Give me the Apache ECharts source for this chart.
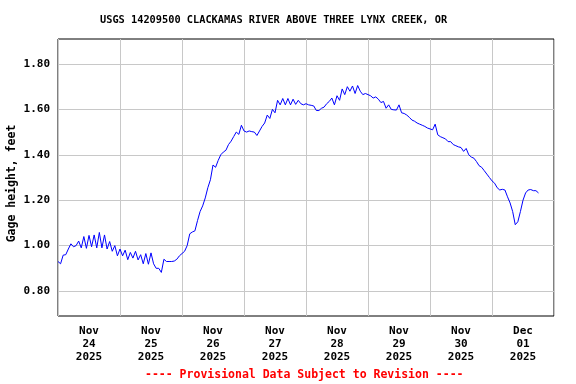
<!DOCTYPE html>
<html>
<head>
<meta charset="utf-8">
<script src="https://cdn.jsdelivr.net/npm/echarts@6/dist/echarts.min.js"></script>
<style>
html,body{margin:0;padding:0;background:#fff;}
#chart{width:576px;height:384px;}
</style>
</head>
<body>
<div id="chart"></div>
<script>
// Gage height (feet), hourly readings starting Nov 24 2025 00:00
const startTime = Date.UTC(2025, 10, 24, 0, 0);
const stepMs = 3600000;
const gageHeight = [
  0.930, 0.920, 0.958, 0.960, 0.985, 1.008, 0.995, 1.000, 1.020, 0.990,
  1.040, 0.988, 1.045, 0.995, 1.047, 0.990, 1.058, 0.990, 1.047, 0.985,
  1.018, 0.975, 1.000, 0.955, 0.985, 0.955, 0.980, 0.938, 0.970, 0.945,
  0.975, 0.937, 0.960, 0.920, 0.965, 0.918, 0.968, 0.920, 0.900, 0.900,
  0.882, 0.940, 0.930, 0.930, 0.930, 0.932, 0.940, 0.955, 0.965, 0.975,
  1.000, 1.052, 1.060, 1.065, 1.110, 1.150, 1.175, 1.210, 1.255, 1.290,
  1.355, 1.345, 1.375, 1.400, 1.412, 1.420, 1.445, 1.460, 1.480, 1.500,
  1.490, 1.530, 1.505, 1.500, 1.505, 1.502, 1.500, 1.485, 1.505, 1.525,
  1.540, 1.575, 1.560, 1.600, 1.585, 1.640, 1.620, 1.648, 1.620, 1.648,
  1.620, 1.645, 1.622, 1.640, 1.625, 1.620, 1.625, 1.620, 1.618, 1.615,
  1.595, 1.595, 1.605, 1.610, 1.625, 1.635, 1.650, 1.620, 1.660, 1.640,
  1.690, 1.665, 1.700, 1.680, 1.703, 1.670, 1.705, 1.680, 1.665, 1.670,
  1.665, 1.660, 1.650, 1.655, 1.645, 1.630, 1.635, 1.605, 1.620, 1.600,
  1.598, 1.597, 1.620, 1.585, 1.582, 1.575, 1.565, 1.553, 1.548, 1.540,
  1.535, 1.530, 1.525, 1.518, 1.514, 1.510, 1.535, 1.488, 1.480, 1.475,
  1.470, 1.458, 1.458, 1.445, 1.440, 1.435, 1.432, 1.415, 1.428, 1.400,
  1.390, 1.385, 1.370, 1.352, 1.345, 1.330, 1.315, 1.300, 1.285, 1.275,
  1.255, 1.245, 1.248, 1.245, 1.215, 1.188, 1.150, 1.092, 1.105, 1.150,
  1.200, 1.232, 1.245, 1.247, 1.242, 1.242, 1.232
];
const yTicks = [0.80, 1.00, 1.20, 1.40, 1.60, 1.80];
const dayLabelTimes = [
  Date.UTC(2025, 10, 24, 12), Date.UTC(2025, 10, 25, 12), Date.UTC(2025, 10, 26, 12),
  Date.UTC(2025, 10, 27, 12), Date.UTC(2025, 10, 28, 12), Date.UTC(2025, 10, 29, 12),
  Date.UTC(2025, 10, 30, 12), Date.UTC(2025, 11, 1, 12)
];
const monthNames = ['Jan','Feb','Mar','Apr','May','Jun','Jul','Aug','Sep','Oct','Nov','Dec'];
const titleText = 'USGS 14209500 CLACKAMAS RIVER ABOVE THREE LYNX CREEK, OR';
const footerText = '---- Provisional Data Subject to Revision ----';

const seriesData = gageHeight.map((v, i) => [startTime + i * stepMs, v]);
const FONT = 'DejaVu Sans Mono';

const chart = echarts.init(document.getElementById('chart'), null, {renderer: 'canvas'});
chart.setOption({
  animation: false,
  backgroundColor: '#fff',
  title: [
    {text: titleText, left: 100, top: 15,
     textStyle: {fontFamily: FONT, fontWeight: 'bold', fontSize: 10.3, color: '#000'}, padding: 0},
    {text: footerText, left: 145, top: 369,
     textStyle: {fontFamily: FONT, fontWeight: 'bold', fontSize: 11.5, color: '#ff0000'}, padding: 0}
  ],
  grid: {left: 58, right: 22, top: 39, bottom: 68, show: true, borderColor: '#000', borderWidth: 1,
         containLabel: false, outerBoundsMode: 'none'},
  xAxis: {
    type: 'value',
    min: startTime,
    max: startTime + 8 * 86400000,
    interval: 86400000,
    axisLine: {show: false},
    axisTick: {show: false},
    splitLine: {show: true, lineStyle: {color: '#c8c8c8', width: 1}},
    axisLabel: {
      customValues: dayLabelTimes,
      margin: 9,
      fontFamily: FONT, fontWeight: 'bold', fontSize: 11, color: '#000', lineHeight: 13,
      formatter: function (v) {
        const d = new Date(v);
        const dd = String(d.getUTCDate()).padStart(2, '0');
        return monthNames[d.getUTCMonth()] + '\n' + dd + '\n' + d.getUTCFullYear();
      }
    }
  },
  yAxis: {
    type: 'value',
    min: 0.69,
    max: 1.91,
    name: 'Gage height, feet',
    nameLocation: 'middle',
    nameGap: 40,
    nameMoveOverlap: false,
    nameRotate: 90,
    nameTextStyle: {fontFamily: FONT, fontWeight: 'bold', fontSize: 11.5, color: '#000', padding: [0, 12, 0, 0]},
    axisLine: {show: false},
    axisTick: {show: false, customValues: yTicks},
    splitLine: {show: true, lineStyle: {color: '#c8c8c8', width: 1}},
    axisLabel: {
      customValues: yTicks,
      margin: 8,
      fontFamily: FONT, fontWeight: 'bold', fontSize: 11, color: '#000',
      formatter: function (v) { return v.toFixed(2); }
    }
  },
  series: [{
    type: 'line',
    data: seriesData,
    showSymbol: false,
    symbol: 'none',
    lineStyle: {color: '#0000ff', width: 1},
    itemStyle: {color: '#0000ff'}
  }]
});
</script>
</body>
</html>
